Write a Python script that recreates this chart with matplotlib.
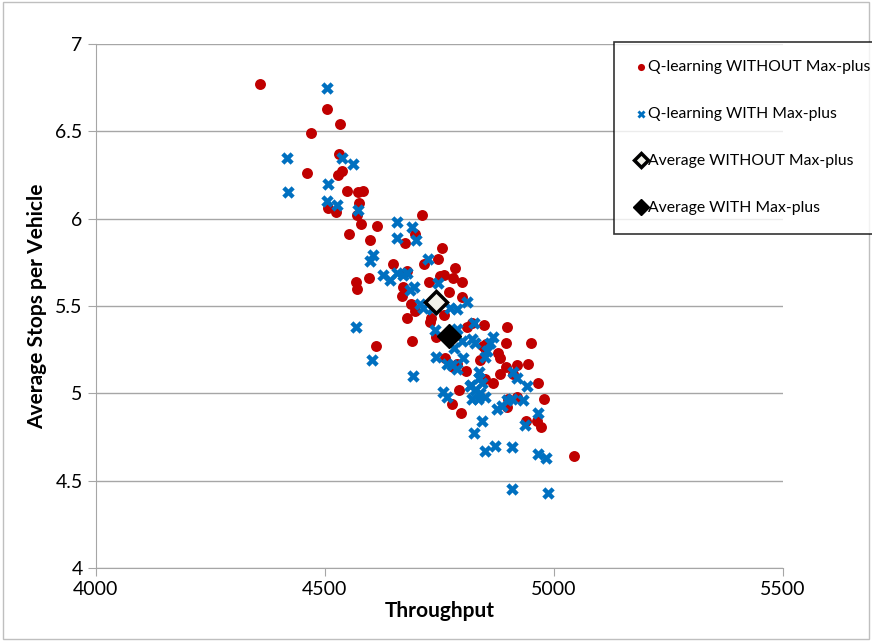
import matplotlib
matplotlib.use("Agg")
from matplotlib import pyplot as plt
from matplotlib.patches import Rectangle
import numpy as np

plt.rcParams['font.family'] = ['Lato', 'DejaVu Sans']

# Q-learning WITHOUT Max-plus (red dots)
red_x = [4358, 4504, 4533, 4469, 4530, 4537, 4528, 4461, 4548, 4572,
         4583, 4574, 4506, 4524, 4570, 4579, 4613, 4552, 4598, 4712,
         4696, 4675, 4755, 4747, 4784, 4648, 4679, 4760, 4751, 4779,
         4799, 4727, 4568, 4570, 4596, 4670, 4668, 4771, 4799, 4688,
         4696, 4760, 4679, 4731, 4810, 4847, 4742, 4690, 4611, 4729,
         4820, 4897, 4895, 4950, 4845, 4878, 4882, 4838, 4762, 4788,
         4779, 4808, 4895, 4919, 4943, 4882, 4849, 4867, 4965, 4792,
         4777, 4797, 4899, 4897, 4919, 4978, 4939, 4963, 4971, 5044,
         4851, 4849, 4910, 4716]
red_y = [6.77, 6.63, 6.54, 6.49, 6.37, 6.27, 6.25, 6.26, 6.16, 6.15,
         6.16, 6.09, 6.06, 6.04, 6.02, 5.97, 5.96, 5.91, 5.88, 6.02,
         5.91, 5.86, 5.83, 5.77, 5.72, 5.74, 5.70, 5.68, 5.67, 5.66,
         5.64, 5.64, 5.64, 5.60, 5.66, 5.61, 5.56, 5.58, 5.55, 5.51,
         5.47, 5.45, 5.43, 5.43, 5.38, 5.39, 5.32, 5.30, 5.27, 5.41,
         5.40, 5.38, 5.29, 5.29, 5.27, 5.23, 5.20, 5.19, 5.20, 5.17,
         5.15, 5.13, 5.15, 5.16, 5.17, 5.11, 5.08, 5.06, 5.06, 5.02,
         4.94, 4.89, 4.97, 4.92, 4.98, 4.97, 4.84, 4.84, 4.81, 4.64,
         5.28, 5.26, 5.11, 5.74]

# Q-learning WITH Max-plus (blue crosses)
blue_x = [4504, 4417, 4537, 4561, 4506, 4419, 4504, 4526, 4572, 4657,
          4657, 4605, 4598, 4690, 4699, 4725, 4627, 4642, 4657, 4670,
          4694, 4685, 4747, 4707, 4714, 4733, 4773, 4788, 4810, 4568,
          4740, 4825, 4788, 4821, 4827, 4867, 4860, 4782, 4854, 4849,
          4742, 4801, 4766, 4777, 4692, 4836, 4843, 4910, 4919, 4941,
          4758, 4766, 4816, 4827, 4838, 4849, 4820, 4834, 4875, 4886,
          4897, 4908, 4932, 4965, 4937, 4843, 4825, 4849, 4871, 4908,
          4965, 4982, 4908, 4987, 4603, 4799, 4788, 4836, 4679, 4819]
blue_y = [6.75, 6.35, 6.35, 6.31, 6.20, 6.15, 6.10, 6.08, 6.05, 5.98,
          5.89, 5.79, 5.76, 5.95, 5.88, 5.77, 5.68, 5.65, 5.69, 5.68,
          5.61, 5.59, 5.63, 5.51, 5.49, 5.48, 5.49, 5.48, 5.52, 5.38,
          5.36, 5.40, 5.37, 5.31, 5.29, 5.32, 5.29, 5.26, 5.24, 5.21,
          5.21, 5.20, 5.17, 5.16, 5.10, 5.09, 5.06, 5.12, 5.09, 5.04,
          5.01, 4.98, 5.04, 5.02, 5.00, 4.98, 4.97, 4.97, 4.91, 4.93,
          4.96, 4.97, 4.96, 4.89, 4.82, 4.84, 4.77, 4.67, 4.70, 4.69,
          4.65, 4.63, 4.45, 4.43, 5.19, 5.30, 5.14, 5.12, 5.69, 5.05]

avg_without = (4742, 5.52)
avg_with = (4771, 5.33)

fig = plt.figure(figsize=(8.72, 6.41), dpi=100)
ax = fig.add_axes([0.110, 0.1139, 0.788, 0.8175])

ax.scatter(red_x, red_y, s=62, color='#c00000', marker='o', linewidths=0,
           label='Q-learning WITHOUT Max-plus', zorder=3)
ax.scatter(blue_x, blue_y, s=80, color='#0070c0', marker='X', linewidths=0,
           label='Q-learning WITH Max-plus', zorder=3)
ax.plot(*avg_without, marker='D', markersize=11, markerfacecolor='#f2f2ea',
        markeredgecolor='black', markeredgewidth=2.5, linestyle='none',
        label='Average WITHOUT Max-plus', zorder=4)
ax.plot(*avg_with, marker='D', markersize=12, color='black', linestyle='none',
        label='Average WITH Max-plus', zorder=4)

ax.set_xlim(4000, 5500)
ax.set_ylim(4, 7)
ax.set_xticks([4000, 4500, 5000, 5500])
ax.set_yticks([4, 4.5, 5, 5.5, 6, 6.5, 7])
ax.set_yticklabels(['4', '4.5', '5', '5.5', '6', '6.5', '7'])
ax.grid(axis='y', color='#a6a6a6', linewidth=1)
ax.set_axisbelow(True)
for s in ['top', 'right']:
    ax.spines[s].set_visible(False)
for s in ['left', 'bottom']:
    ax.spines[s].set_color('#a6a6a6')
ax.tick_params(axis='both', colors='#a6a6a6', labelcolor='black',
               labelsize=14, length=6, direction='out')

ax.set_xlabel('Throughput', fontsize=15, fontweight='bold', labelpad=2)
ax.set_ylabel('Average Stops per Vehicle', fontsize=15, fontweight='bold', labelpad=6)

leg = fig.legend(loc='upper left', bbox_to_anchor=(0.704, 0.935), fontsize=11.3,
                 frameon=True, fancybox=False, labelspacing=2.1, handletextpad=0.0,
                 handlelength=1.0, borderpad=1.2, borderaxespad=0.0, markerscale=0.65)
leg.get_frame().set_edgecolor('black')
leg.get_frame().set_linewidth(1.2)

fig.patches.append(Rectangle((0.003, 0.003), 0.994, 0.994, transform=fig.transFigure,
                             fill=False, edgecolor='#bfbfbf', linewidth=1))

fig.savefig('out.png', dpi=100)
